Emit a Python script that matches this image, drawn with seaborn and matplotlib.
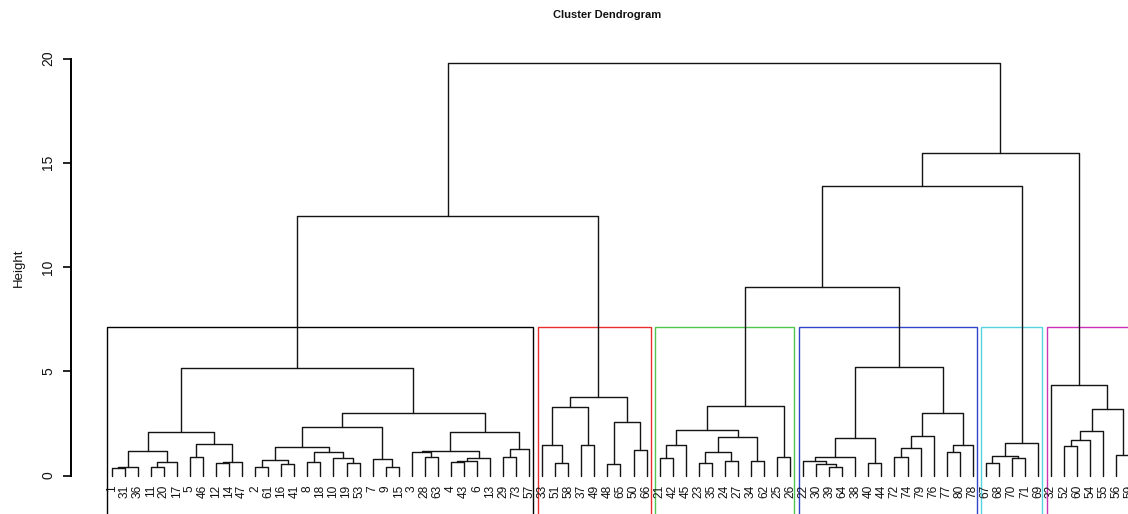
import matplotlib
matplotlib.use("Agg")
import matplotlib.pyplot as plt
from matplotlib.patches import Rectangle
import pandas as pd
import seaborn as sns

# Hierarchical clustering result written as nested merges:
# (left, right, height); plain integers are observation labels.
c1_a = (((1, 31, 0.35), 36, 0.42), ((11, 20, 0.39), 17, 0.63), 1.17)
c1_b = ((5, 46, 0.90), ((12, 14, 0.58), 47, 0.66), 1.51)
c1_c = (((2, 61, 0.39), (16, 41, 0.55), 0.74),
        ((8, 18, 0.63), (10, (19, 53, 0.62), 0.82), 1.11), 1.38)
c1_d = (c1_c, (7, (9, 15, 0.42), 0.78), 2.34)
c1_e = (((3, (28, 63, 0.87), 1.14), (((4, 43, 0.63), 6, 0.68), 13, 0.85), 1.19),
        ((29, 73, 0.87), 57, 1.26), 2.10)
cluster_1 = ((c1_a, c1_b, 2.07), (c1_d, c1_e, 2.98), 5.16)

cluster_2 = (((33, (51, 58, 0.62), 1.46), (37, 49, 1.46), 3.27),
             ((48, 65, 0.54), (50, 66, 1.22), 2.55), 3.76)

cluster_3 = ((((21, 42, 0.82), 45, 1.46),
              (((23, 35, 0.62), (24, 27, 0.71), 1.13), (34, 62, 0.71), 1.85), 2.20),
             (25, 26, 0.88), 3.33)

cluster_4 = ((((22, (30, (39, 64, 0.39), 0.54), 0.70), 38, 0.88), (40, 44, 0.62), 1.78),
             ((((72, 74, 0.87), 79, 1.34), 76, 1.91), ((77, 80, 1.15), 78, 1.46), 2.98),
             5.19)

cluster_5 = (((67, 68, 0.58), (70, 71, 0.82), 0.95), 69, 1.54)

cluster_6 = (32, ((((52, 60, 1.42), 54, 1.72), 55, 2.12), (56, 59, 0.96), 3.18), 4.34)

clusters = [cluster_1, cluster_2, cluster_3, cluster_4, cluster_5, cluster_6]
box_colors = ["#000000", "#EA2E2E", "#4FC64F", "#2F45C8", "#55D3E0", "#CC30B8"]

tree = ((cluster_1, cluster_2, 12.46),
        (((cluster_3, cluster_4, 9.04), cluster_5, 13.88), cluster_6, 15.45),
        19.78)

y_ticks = [0, 5, 10, 15, 20]


def layout(node, leaves, segments, heights):
    """Place leaves left to right and collect the U-shaped links."""
    if isinstance(node, int):
        leaves.append(node)
        return float(len(leaves)), 0.0
    left, right, h = node
    xl, hl = layout(left, leaves, segments, heights)
    xr, hr = layout(right, leaves, segments, heights)
    segments.append([(xl, hl), (xl, h), (xr, h), (xr, hr)])
    heights.append(h)
    return (xl + xr) / 2.0, h


def count_leaves(node):
    if isinstance(node, int):
        return 1
    return count_leaves(node[0]) + count_leaves(node[1])


leaves, segments, heights = [], [], []
layout(tree, leaves, segments, heights)

rows = []
for sid, seg in enumerate(segments):
    for order, (x, y) in enumerate(seg):
        rows.append({"link": sid, "order": order, "x": x, "y": y})
links = pd.DataFrame(rows)

sns.set_style("white")
plt.rcParams["font.family"] = ["Liberation Sans", "DejaVu Sans"]

W, H = 1128, 514
fig = plt.figure(figsize=(W / 100, H / 100), dpi=100)
ax = fig.add_axes([71 / W, -30 / H, 1089 / W, 504 / H])

sns.lineplot(data=links, x="x", y="y", units="link", estimator=None, sort=False,
             color="#141414", linewidth=1.0, ax=ax, legend=False)

# Leaf position <-> pixel scale used to frame the axes
x0_px, dx_px = 111.7, 13.046
y0_px, dy_px = 475.5, 20.85
ax.set_xlim(1 + (71 - x0_px) / dx_px, 1 + (1160 - x0_px) / dx_px)
ax.set_ylim(-(544 - y0_px) / dy_px, (y0_px - 40) / dy_px)

for i, lab in enumerate(leaves, start=1):
    ax.text(i, -0.45, str(lab), rotation=90, ha="center", va="top",
            fontsize=8.6, color="#111111")

# Rectangles around the six clusters
sorted_h = sorted(heights, reverse=True)
k = len(clusters)
box_top = (sorted_h[k - 2] + sorted_h[k - 1]) / 2.0
start = 0
for node, col in zip(clusters, box_colors):
    n = count_leaves(node)
    ax.add_patch(Rectangle((start + 0.66, -3.2), n - 0.33, box_top + 3.2,
                           fill=False, edgecolor=col, linewidth=1.0))
    start += n

for s in ["top", "right", "bottom"]:
    ax.spines[s].set_visible(False)
ax.spines["left"].set_bounds(0, 20)
ax.spines["left"].set_color("black")
ax.spines["left"].set_linewidth(1.4)
ax.set_xticks([])
ax.set_xlabel("")
ax.set_ylabel("")
ax.set_yticks(y_ticks)
ax.set_yticklabels([str(t) for t in y_ticks], rotation=90, va="center")
ax.tick_params(axis="y", left=True, length=6, width=1.2, pad=5.5, labelsize=10,
               color="black", labelcolor="#111111")

fig.text(19 / W, 1 - 268 / H, "Height", rotation=90, ha="center", va="center",
         fontsize=9.5, color="#111111")
fig.text(607 / W, 1 - 15 / H, "Cluster Dendrogram", ha="center", va="center",
         fontsize=8, fontweight="bold", color="#111111")

fig.savefig("out.png", dpi=100)
